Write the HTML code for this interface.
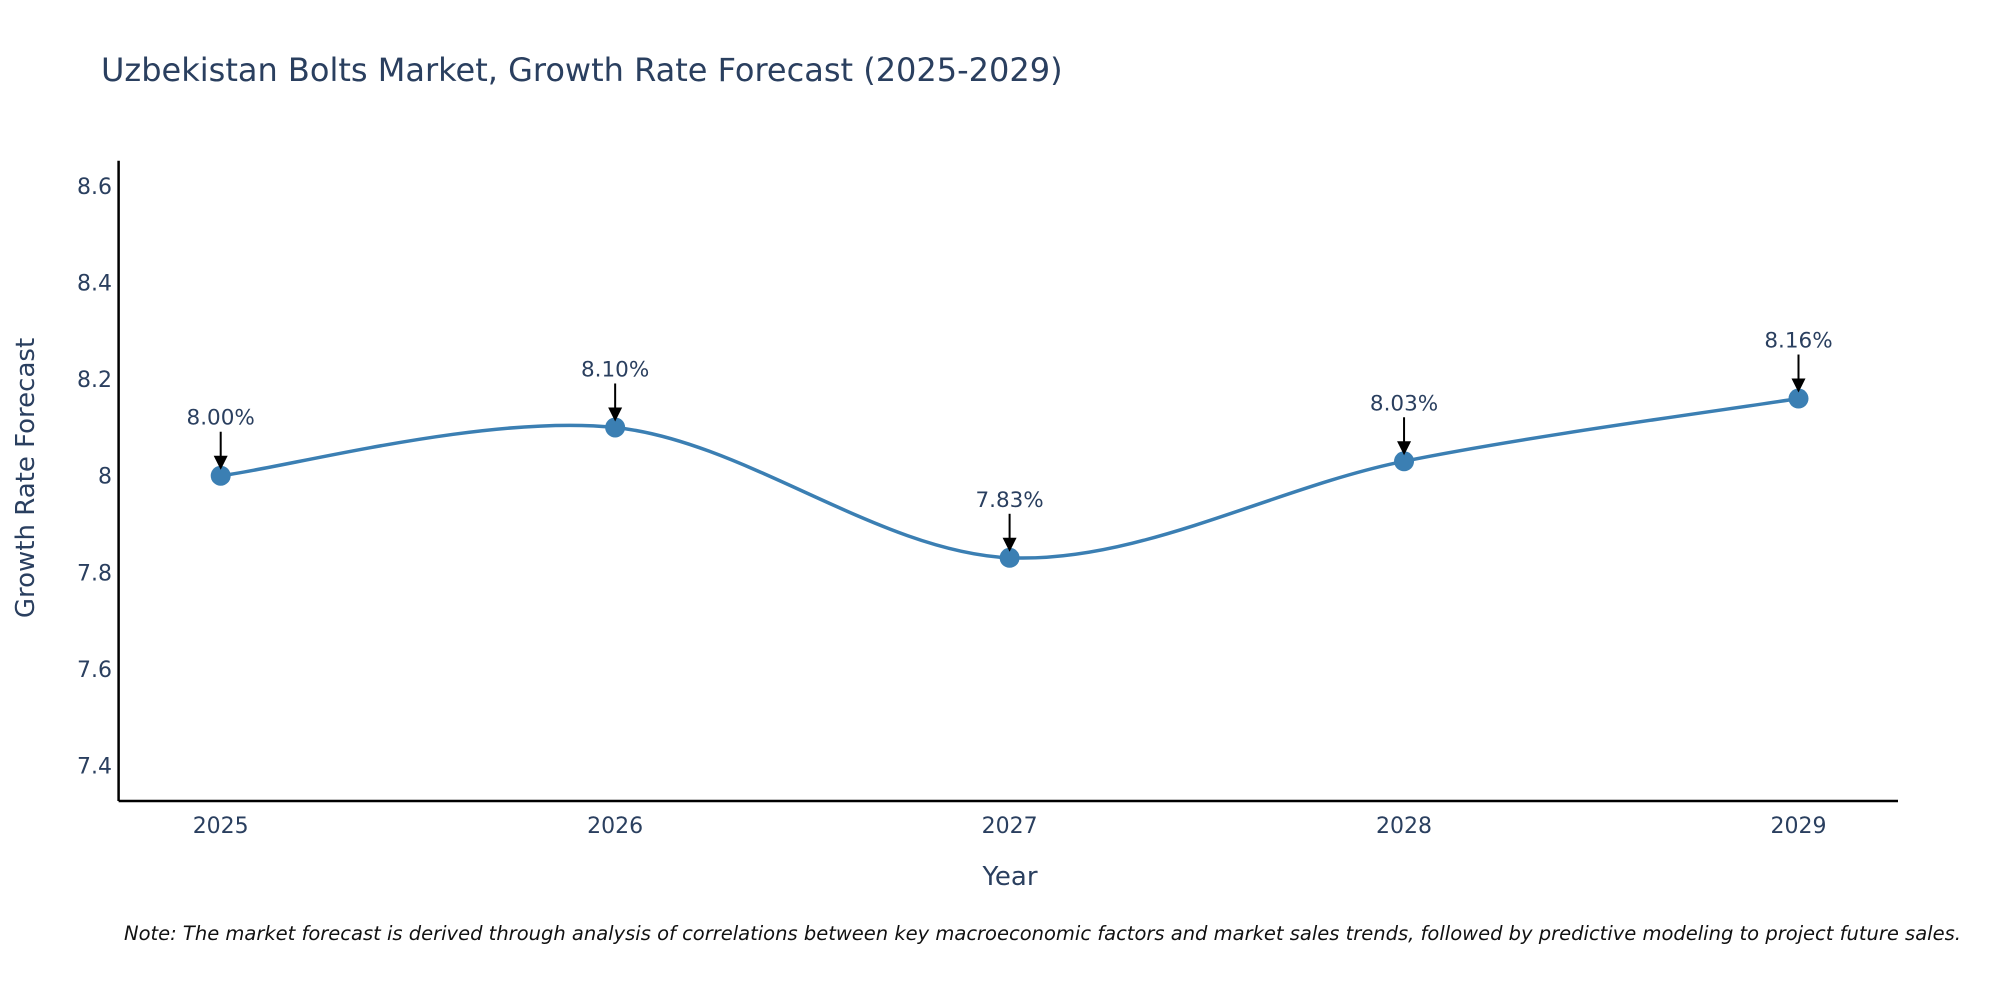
<!DOCTYPE html>
<html><head><meta charset="utf-8"><style>
body{margin:0;background:#fff;width:2000px;height:1000px;overflow:hidden}
svg text{font-family:"DejaVu Sans","Liberation Sans",sans-serif;fill:#2a3f5f}
</style></head><body>
<svg id="c" width="2000" height="1000">
<text x="101" y="81" font-size="32">Uzbekistan Bolts Market, Growth Rate Forecast (2025-2029)</text>
<text transform="translate(34,478) rotate(-90)" text-anchor="middle" font-size="26">Growth Rate Forecast</text>
<text x="1010" y="885" text-anchor="middle" font-size="26">Year</text>
<text x="124" y="940" font-size="19.5" font-style="italic" style="fill:#111">Note: The market forecast is derived through analysis of correlations between key macroeconomic factors and market sales trends, followed by predictive modeling to project future sales.</text>
<g id="g"></g>
</svg>
<script>
const years=[2025,2026,2027,2028,2029];
const values=[8.00,8.10,7.83,8.03,8.16];
const labels=["8.00%","8.10%","7.83%","8.03%","8.16%"];
const yTicks=[7.4,7.6,7.8,8,8.2,8.4,8.6];
const NS="http://www.w3.org/2000/svg";
const g=document.getElementById('g');
const X0=118.6,X1=1898,Y0=801,Y1=160.7;
const xs=v=>220.7+(v-2025)*(1798.5-220.7)/4;
const ys=v=>765.3-(v-7.4)*482.6;
function mk(t,a){const e=document.createElementNS(NS,t);for(const k in a)e.setAttribute(k,a[k]);g.appendChild(e);return e;}
let e;
e=mk('line',{x1:X0,y1:Y0,x2:X1,y2:Y0,stroke:'#000','stroke-width':2.5});


e=mk('line',{x1:X0,y1:Y0,x2:X0,y2:Y1,stroke:'#000','stroke-width':2.5});


yTicks.forEach(t=>{e=mk('text',{x:112,y:ys(t)+8,'text-anchor':'end','font-size':22});e.textContent=String(t);

});
years.forEach(y=>{e=mk('text',{x:xs(y),y:833,'text-anchor':'middle','font-size':22});e.textContent=String(y);

});
const P=years.map((y,i)=>[xs(y),ys(values[i])]);
let d='M'+P[0][0]+','+P[0][1];const s=0.33;
for(let i=0;i<P.length-1;i++){const p0=P[Math.max(i-1,0)],p1=P[i],p2=P[i+1],p3=P[Math.min(i+2,P.length-1)];
const c1=[p1[0]+(p2[0]-p0[0])*s/2,p1[1]+(p2[1]-p0[1])*s/2];
const c2=[p2[0]-(p3[0]-p1[0])*s/2,p2[1]-(p3[1]-p1[1])*s/2];
d+=' C'+c1+' '+c2+' '+p2;}
e=mk('path',{d:d,fill:'none',stroke:'#3b7fb3','stroke-width':3.5});


P.forEach((p,i)=>{
e=mk('circle',{cx:p[0],cy:p[1],r:10,fill:'#3b7fb3'});


e=mk('line',{x1:p[0],y1:p[1]-44,x2:p[0],y2:p[1]-18,stroke:'#000','stroke-width':2});


e=mk('polygon',{points:`${p[0]-7},${p[1]-20} ${p[0]+7},${p[1]-20} ${p[0]},${p[1]-6}`,fill:'#000'});


e=mk('text',{x:p[0],y:p[1]-51,'text-anchor':'middle','font-size':21.5});e.textContent=labels[i];


});
</script>
</body></html>
